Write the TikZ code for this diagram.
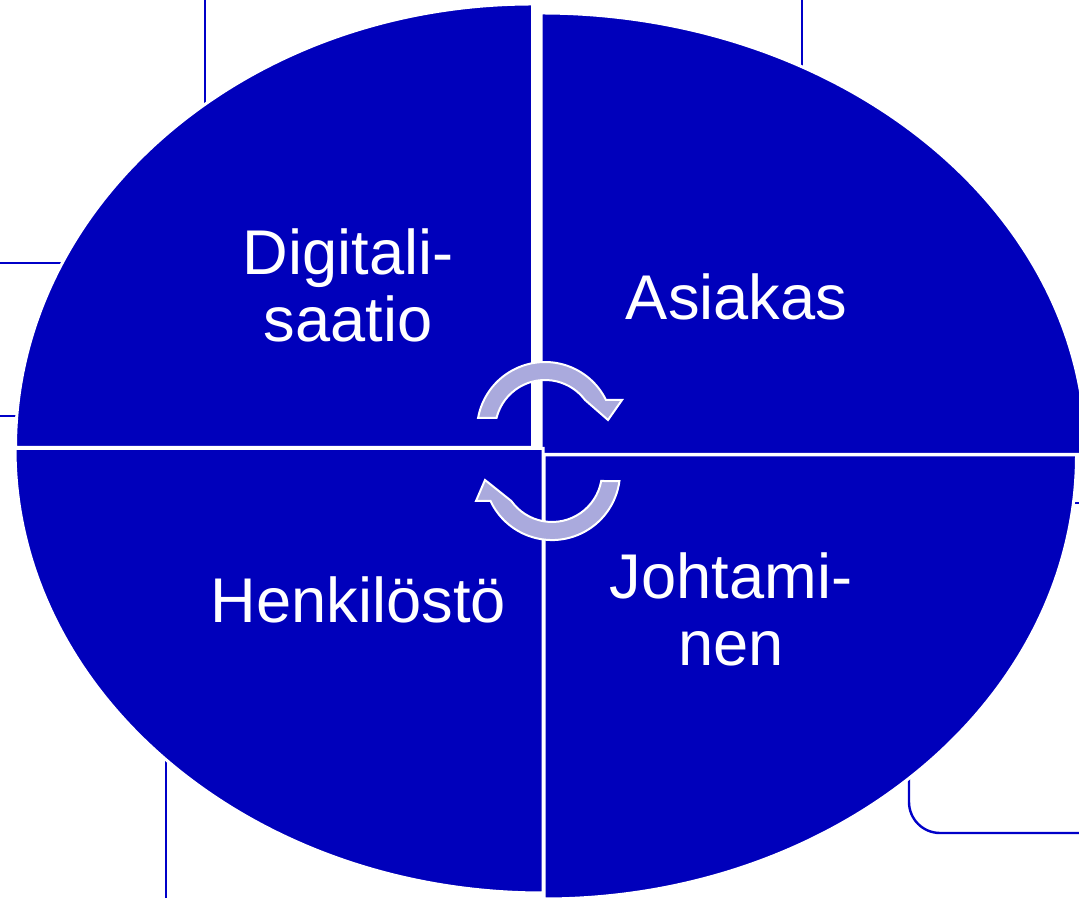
\documentclass[tikz,border=0pt]{standalone}
\usepackage{fontspec}
\setmainfont{Liberation Sans}
\usepackage{tikz}

\definecolor{quadblue}{RGB}{0,0,187}
\definecolor{lineblue}{RGB}{0,0,200}
\definecolor{arrowlav}{RGB}{170,170,221}

\begin{document}
\begin{tikzpicture}[x=0.5pt, y=0.5pt,
    quarter/.style={fill=quadblue, draw=white, line width=1.5pt},
    backline/.style={lineblue, line width=1.2pt},
    cyclearrow/.style={fill=arrowlav, draw=white, line width=1pt, line join=miter},
    label/.style={text=white, align=center, inner sep=0pt, font=\fontsize{31.6}{33.5}\selectfont}]
      \useasboundingbox (0,0) rectangle (1079,898);

      \draw[backline] (205,898) -- (205,790);
      \draw[backline] (0,635) -- (70,635);
      \draw[backline] (0,482) -- (22,482);
      \draw[backline] (802,898) -- (802,825);
      \draw[backline] (1068,395) -- (1079,395);
      \draw[backline] (909,130) -- (909,96) arc[start angle=180, end angle=270, radius=31] -- (1079,65);
      \draw[backline] (166,0) -- (166,145);

      \draw[quarter] (532.5,450.5) -- (15.5,450.5) arc[start angle=180, end angle=90, x radius=517, y radius=443.5] -- cycle;
      \draw[quarter] (541,443.5) -- (541,885) arc[start angle=90, end angle=0, x radius=545, y radius=441.5] -- cycle;
      \draw[quarter] (543,449.5) -- (15,449.5) arc[start angle=180, end angle=270, x radius=528, y radius=444.5] -- cycle;
      \draw[quarter] (544,443) -- (1076.5,443) arc[start angle=0, end angle=-90, x radius=532.5, y radius=444] -- cycle;

      \node[label] (digi) at (348,612.5) {Digitali-\\saatio};
      \node[label, anchor=base] (asiakas) at (736.5,578) {Asiakas};
      \node[label, anchor=base] (henk) at (358.5,275) {Henkilöstö};
      \node[label] (johto) at (731,289) {Johtami-\\nen};

      \draw[cyclearrow] (496.5,480) arc[start angle=166.1, end angle=36.9, radius=50] -- (608,478) -- (622,498) -- (606,498) arc[start angle=26.2, end angle=169.8, radius=68] -- cycle;
      \draw[cyclearrow] (601.2,417) arc[start angle=-10.4, end angle=-144.5, radius=50] -- (485,418) -- (476,397) -- (490.5,397) arc[start angle=-154.8, end angle=-7.6, radius=68] -- cycle;
    \end{tikzpicture}
\end{document}
